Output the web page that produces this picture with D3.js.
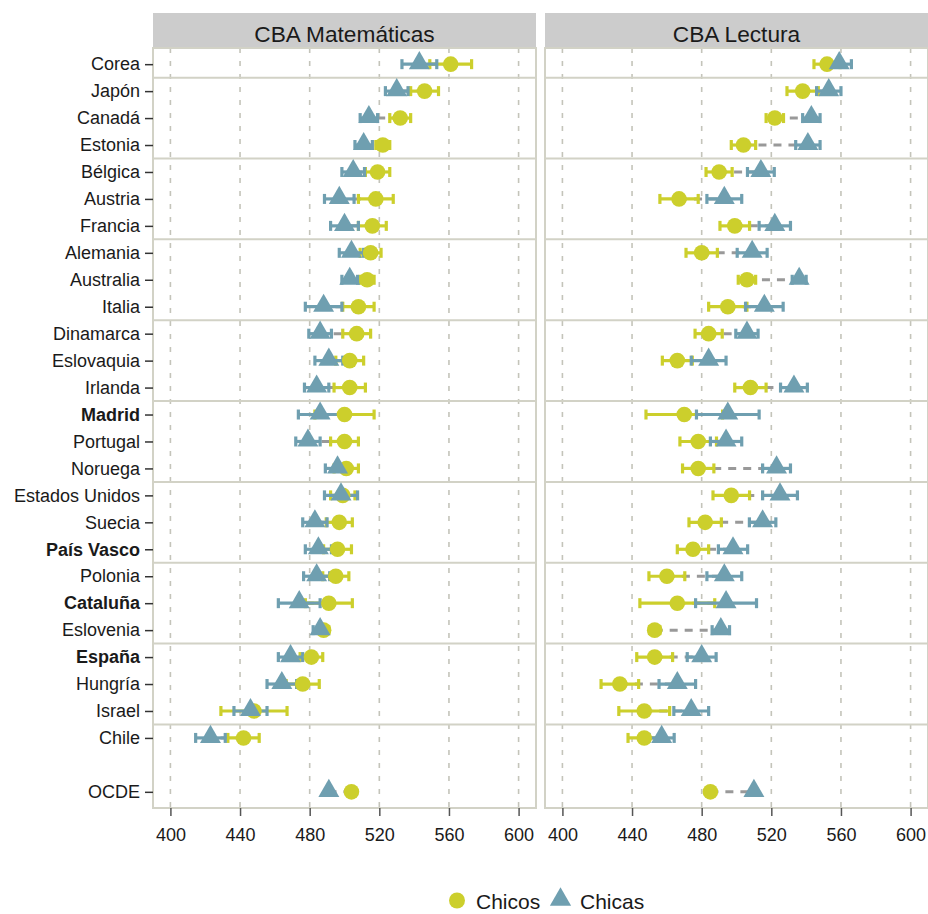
<!DOCTYPE html>
<html><head><meta charset="utf-8">
<script src="https://cdn.jsdelivr.net/npm/d3@7"></script>
<style>body{margin:0;background:#fff} text{font-family:"Liberation Sans",Arial,sans-serif}</style>
</head><body><svg id="c" width="928" height="914"></svg>
<script>
const countries = ["Corea","Japón","Canadá","Estonia","Bélgica","Austria","Francia","Alemania","Australia","Italia","Dinamarca","Eslovaquia","Irlanda","Madrid","Portugal","Noruega","Estados Unidos","Suecia","País Vasco","Polonia","Cataluña","Eslovenia","España","Hungría","Israel","Chile","OCDE"];
const boldRows = ["Madrid","País Vasco","Cataluña","España"];
const groupEnds = ["Corea","Estonia","Francia","Italia","Irlanda","Noruega","País Vasco","Eslovenia","Israel"];
const panelTitles = ["CBA Matemáticas","CBA Lectura"];
const seriesNames = ["Chicos","Chicas"];
const xTicks = [400,440,480,520,560,600];

const mathBoys    = [561,546,532,522,519,518,516,515,513,508,507,503,503,500,500,501,499,497,496,495,491,488,481,476,448,442,504];
const mathBoysErr = [12,8,6,4,7,10,8,6,4,9,8,8,9,17,8,7,7,7.5,8,7.5,13.5,3,6.5,9.5,19,9,0];
const mathGirls   = [543,530,514,511,505,497,500,504,503,488,486,491,484,486,479,496,498,483,485,484,474,486,469,464,446,423,491];
const mathGirlsErr= [10,6.5,5,5,6.5,8.5,8,7,4.5,10.5,6.5,8,7,12.5,7,7,9.5,7,7.5,7.5,12,4,7,8.5,9.5,8.5,0];

const readBoys    = [552,538,522,504,490,467,499,480,506,495,484,466,508,470,478,478,497,482,475,460,466,453,453,433,447,447,485];
const readBoysErr = [7.5,9,5,7,7.5,11,8.5,9,5,11,7.8,8.6,9,22,10.5,9,10.5,9.3,9,10.3,21.5,3,10.3,10.8,14.6,9.3,0];
const readGirls   = [559,553,543,541,514,493,522,509,536,516,506,484,533,495,494,523,525,515,498,493,494,491,480,466,474,457,510];
const readGirlsErr= [7,7,5,7,7.7,10,9,8.6,4,10.8,6.4,10,7.7,18,9,8,10,7.6,8.4,10,17.5,5,8.3,10.5,10,7.2,0];

const boyColor = "#CCCF2C", girlColor = "#6F9FB0";
const svg = d3.select("#c");
const panelW = 383, pTop = 48, pBottom = 808, stripTop = 13;
const spacer = " ";
const yDomain = countries.slice(0,-1).concat([spacer], countries.slice(-1));
const y = d3.scalePoint().domain(yDomain).range([pTop,pBottom]).padding(0.6);
const stepH = y.step();

const panels = [
  {title: panelTitles[0], x0: 153, boys: mathBoys, boysErr: mathBoysErr, girls: mathGirls, girlsErr: mathGirlsErr},
  {title: panelTitles[1], x0: 545, boys: readBoys, boysErr: readBoysErr, girls: readGirls, girlsErr: readGirlsErr}
];
const triSym = d3.symbol().type(d3.symbolTriangle).size(190);
const cirR = 7.8;
const FONT = '"Liberation Sans",Arial,sans-serif';

panels.forEach((p, pi) => {
  const x = d3.scaleLinear().domain([390,610]).range([p.x0, p.x0 + panelW]);
  const g = svg.append("g");
  g.append("rect").attr("x", p.x0).attr("y", stripTop).attr("width", panelW).attr("height", pTop - stripTop).attr("fill", "#cccccc");
  g.append("text").attr("x", p.x0 + panelW/2).attr("y", 41.5).attr("text-anchor","middle")
    .attr("font-size", "22.7px").attr("fill","#1a1a1a").text(p.title);
  g.append("rect").attr("x", p.x0).attr("y", pTop).attr("width", panelW).attr("height", pBottom - pTop).attr("fill","#fff");
  g.selectAll(".grid").data(xTicks).join("line")
    .attr("x1", d => x(d)).attr("x2", d => x(d)).attr("y1", pTop).attr("y2", pBottom)
    .attr("stroke", "#c4c4ba").attr("stroke-width", 1.6).attr("stroke-dasharray", "5,8");
  g.selectAll(".sep").data(groupEnds).join("line")
    .attr("x1", p.x0).attr("x2", p.x0 + panelW)
    .attr("y1", d => y(d) + stepH/2).attr("y2", d => y(d) + stepH/2)
    .attr("stroke", "#d2d2c6").attr("stroke-width", 2);
  g.append("rect").attr("x", p.x0).attr("y", pTop).attr("width", panelW).attr("height", pBottom - pTop)
    .attr("fill","none").attr("stroke","#d2d2c6").attr("stroke-width", 2);

  const rows = countries.map((c, i) => ({c, b: p.boys[i], be: p.boysErr[i], gv: p.girls[i], ge: p.girlsErr[i]}));
  g.selectAll(".seg").data(rows).join("line")
    .attr("x1", d => x(d.b)).attr("x2", d => x(d.gv)).attr("y1", d => y(d.c)).attr("y2", d => y(d.c))
    .attr("stroke", "#999999").attr("stroke-width", 3).attr("stroke-dasharray", "8,7");
  function errbars(key, ekey, color) {
    const eg = g.append("g");
    rows.filter(d => d[ekey] > 0).forEach(d => {
      const yy = y(d.c), lo = x(d[key] - d[ekey]), hi = x(d[key] + d[ekey]);
      eg.append("line").attr("x1", lo).attr("x2", hi).attr("y1", yy).attr("y2", yy).attr("stroke", color).attr("stroke-width", 3.2);
      [lo, hi].forEach(xx => eg.append("line").attr("x1", xx).attr("x2", xx).attr("y1", yy - 5).attr("y2", yy + 5)
        .attr("stroke", color).attr("stroke-width", 3.2));
    });
  }
  errbars("b", "be", boyColor);
  errbars("gv", "ge", girlColor);
  g.selectAll(".boy").data(rows).join("circle")
    .attr("cx", d => x(d.b)).attr("cy", d => y(d.c)).attr("r", cirR).attr("fill", boyColor);
  g.selectAll(".girl").data(rows).join("path")
    .attr("d", triSym).attr("transform", d => `translate(${x(d.gv)},${y(d.c) - 1})`).attr("fill", girlColor);

  const xa = svg.append("g").attr("transform", `translate(0,${pBottom})`)
    .call(d3.axisBottom(x).tickValues(xTicks).tickSize(8).tickPadding(12));
  xa.select(".domain").remove();
  xa.selectAll(".tick line").attr("stroke", "#555").attr("stroke-width", 1.5);
  xa.selectAll(".tick text").attr("font-size", "18px").attr("fill", "#1a1a1a").attr("font-family", FONT);

  if (pi === 0) {
    const ya = svg.append("g").attr("transform", `translate(${p.x0},0)`)
      .call(d3.axisLeft(y).tickValues(countries).tickSize(8).tickPadding(5));
    ya.select(".domain").remove();
    ya.selectAll(".tick line").attr("stroke", "#333").attr("stroke-width", 1.5);
    ya.selectAll(".tick text").attr("font-size", "18px").attr("fill", "#1a1a1a")
      .attr("font-family", FONT)
      .attr("font-weight", d => boldRows.includes(d) ? "bold" : "normal");
  }
});

const lg = svg.append("g");
lg.append("circle").attr("cx", 457).attr("cy", 900.5).attr("r", 8).attr("fill", boyColor);
lg.append("text").attr("x", 476).attr("y", 908.5).attr("font-size", "21px").attr("fill", "#1a1a1a").text(seriesNames[0]);
lg.append("path").attr("d", d3.symbol().type(d3.symbolTriangle).size(195)).attr("transform", "translate(560.5,899.5)").attr("fill", girlColor);
lg.append("text").attr("x", 580).attr("y", 908.5).attr("font-size", "21px").attr("fill", "#1a1a1a").text(seriesNames[1]);
</script></body></html>
